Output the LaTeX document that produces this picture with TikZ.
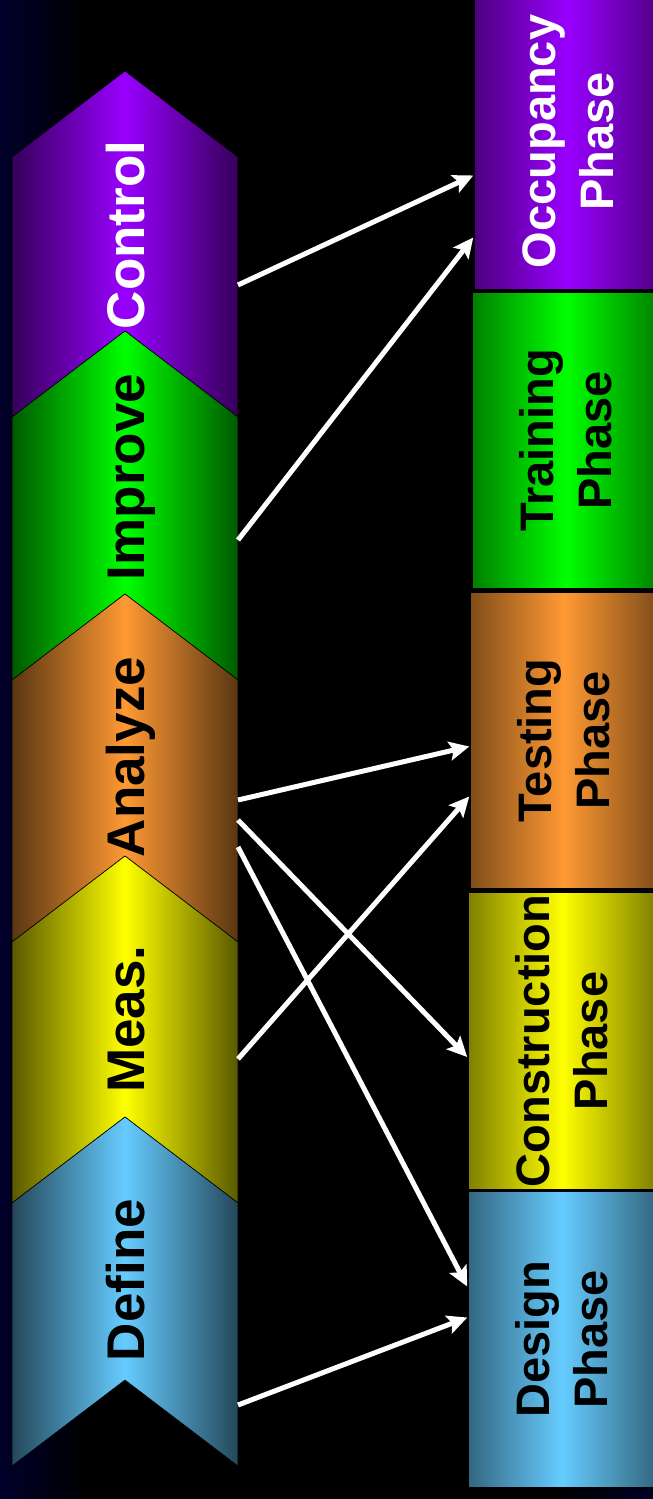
\documentclass[tikz,border=0pt]{standalone}
\usepackage{fontspec}
\setmainfont{Liberation Sans}
\usetikzlibrary{arrows.meta,calc}
\definecolor{bgnavy}{RGB}{0,0,42}
\definecolor{ctrlpurple}{HTML}{9900FF}
\definecolor{imprgreen}{HTML}{00FF00}
\definecolor{anlzorange}{HTML}{FF9933}
\definecolor{measyellow}{HTML}{FFFF00}
\definecolor{defnblue}{HTML}{66CCFF}
\newcommand{\phaselabel}[1]{\hspace*{10pt}\rotatebox{90}{\begin{tabular}{@{}c@{}}#1\\Phase\end{tabular}}}

\begin{document}
\begin{tikzpicture}[x=1pt, y=-1pt,
    chevron/.style={draw=black, line width=0.6pt},
    chevlabel/.style={rotate=90, anchor=base, inner sep=0pt, font=\fontsize{53}{60}\selectfont\bfseries},
    phasebox/.style={draw=black, line width=1.5pt, minimum width=188pt, minimum height=297pt, inner sep=0pt, font=\fontsize{47}{58}\selectfont\bfseries},
    glow/.style={left color=#1!50!black, right color=#1!50!black, middle color=#1},
    link/.style={-{Stealth[length=20pt,width=19pt,inset=4pt]}, line width=5pt, color=white},
]

\useasboundingbox (0,0) rectangle (653,1499);
\clip (0,0) rectangle (653,1499);

% background
\fill[black] (0,0) rectangle (653,1499);
\shade[left color=bgnavy, right color=black] (0,0) rectangle (90,1499);
\shade[left color=black, right color=bgnavy] (560,0) rectangle (653,1499);

% DMAIC chevrons
\foreach \nm/\lbl/\ys/\yb/\col/\tc/\yc in {
    ctl/Control/157/417/ctrlpurple/white/235,
    imp/Improve/417/680/imprgreen/black/477,
    ana/Analyze/680/942/anlzorange/black/757,
    mea/Meas./942/1203/measyellow/black/1019,
    def/Define/1203/1466/defnblue/black/1280} {
    \draw[chevron, left color=\col!35!black, right color=\col!35!black, middle color=\col]
        (12,\yb) -- (12,\ys) -- (125,\ys-86) -- (238,\ys) -- (238,\yb) -- (125,\yb-86) -- cycle;
    \node[chevlabel, text=\tc] (\nm) at (144,\yc) {\lbl};
}

% project phases
\node[phasebox, glow=ctrlpurple, text=white] (occ) at (568,141.5) {\phaselabel{Occupancy}};
\node[phasebox, glow=imprgreen] (trn) at (566,440.5) {\phaselabel{Training}};
\node[phasebox, glow=anlzorange] (tst) at (564,740.5) {\phaselabel{Testing}};
\node[phasebox, glow=measyellow] (con) at (562,1041) {\phaselabel{Construction}};
\node[phasebox, glow=defnblue] (des) at (562,1339.5) {\phaselabel{Design}};

% connector ends
\coordinate (ctl-out) at (238,285);
\coordinate (imp-out) at (238,540);
\coordinate (ana-out1) at (238,800);
\coordinate (ana-out2) at (238,820);
\coordinate (ana-out3) at (238,847);
\coordinate (mea-out) at (238,1059);
\coordinate (def-out) at (238,1405);
\coordinate (occ-in1) at ($(occ.west)+(0,34)$);
\coordinate (occ-in2) at ($(occ.west)+(0,96)$);
\coordinate (tst-in1) at ($(tst.west)+(0,6)$);
\coordinate (tst-in2) at ($(tst.west)+(0,56)$);
\coordinate (con-in) at ($(con.west)+(0,16)$);
\coordinate (des-in1) at ($(des.west)+(0,-53)$);
\coordinate (des-in2) at ($(des.west)+(0,-22)$);

\foreach \i/\j in {ctl-out/occ-in1, imp-out/occ-in2, ana-out1/tst-in1, mea-out/tst-in2,
    ana-out2/con-in, ana-out3/des-in1, def-out/des-in2} {
    \draw[link] (\i) -- (\j);
}

\end{tikzpicture}
\end{document}
